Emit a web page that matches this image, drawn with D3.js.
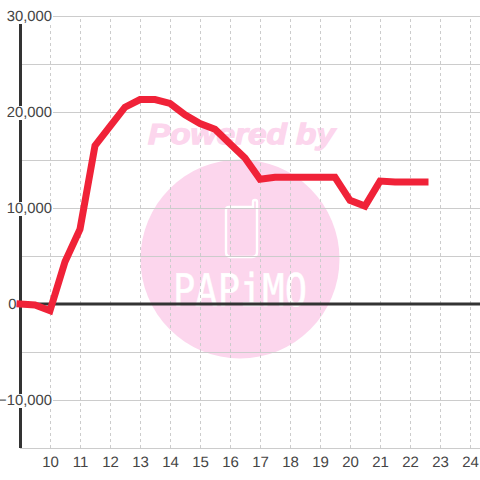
<!DOCTYPE html>
<html><head><meta charset="utf-8">
<style>html,body{margin:0;padding:0;background:#fff}svg{display:block;text-rendering:geometricPrecision}</style>
<script src="https://cdnjs.cloudflare.com/ajax/libs/d3/7.8.5/d3.min.js"></script>
</head><body><div id="c"></div>
<script>
const hours=[9,9.5,10,10.5,11,11.5,12,12.5,13,13.5,14,14.5,15,15.5,16,16.5,17,17.5,18,18.5,19,19.5,20,20.5,21,21.5,22,22.5];
const values=[0,-100,-700,4400,7800,16500,18500,20500,21300,21300,20900,19700,18800,18200,16700,15200,13000,13200,13200,13200,13200,13200,10800,10200,12800,12700,12700,12700];
const xTicks=[10,11,12,13,14,15,16,17,18,19,20,21,22,23,24];
const yGrid=[-15000,-10000,-5000,0,5000,10000,15000,20000,25000,30000];
const yLabels=[-10000,0,10000,20000,30000];
const W=480,H=480;
const x=d3.scaleLinear().domain([9,24.3333]).range([20,480]);
const y=d3.scaleLinear().domain([-15000,30000]).range([448,16]);
const svg=d3.select('#c').append('svg').attr('width',W).attr('height',H).style('font-family','"Liberation Sans",Arial,sans-serif');

// watermark
const wm=svg.append('g');
wm.append('circle').attr('cx',240).attr('cy',259).attr('r',99.5).attr('fill','#fcd6ed');
wm.append('text').attr('x',148).attr('y',144).attr('font-size',29).attr('font-weight','bold').attr('font-style','italic').attr('textLength',187).attr('lengthAdjust','spacingAndGlyphs').attr('fill','#fcd6ed').attr('stroke','#fcd6ed').attr('stroke-width',1.3).text('Powered by');
wm.append('path').attr('d','M229 207H253V202Q253 200 255 200Q257 200 257 202V252Q257 257 252 257H231Q226 257 226 252V210Q226 207 229 207Z').attr('fill','none').attr('stroke','#fff').attr('stroke-width',2.4);
wm.append('text').attr('x',173).attr('y',306).attr('font-size',45).attr('font-family','"DejaVu Sans Mono",monospace').attr('textLength',134).attr('lengthAdjust','spacingAndGlyphs').attr('fill','#fff').attr('stroke','#fff').attr('stroke-width',0.5).text('PAPiMO');

// grid
svg.append('g').attr('transform','translate(0,448)').call(d3.axisBottom(x).tickValues(xTicks).tickSize(-432).tickFormat(''))
 .call(g=>g.select('.domain').remove())
 .call(g=>g.selectAll('line').attr('stroke','#ccc').attr('stroke-dasharray','3,3'));
svg.append('g').attr('transform','translate(20,0)').call(d3.axisLeft(y).tickValues(yGrid).tickSize(-460).tickFormat(''))
 .call(g=>g.select('.domain').remove())
 .call(g=>g.selectAll('line').attr('stroke','#ccc'));

// axes lines
svg.append('line').attr('x1',x(9)).attr('x2',x(9)).attr('y1',y(30000)).attr('y2',y(-15000)).attr('stroke','#333').attr('stroke-width',3).attr('transform','translate(0.5,0)');
svg.append('line').attr('x1',x(9)).attr('x2',W).attr('y1',y(0)).attr('y2',y(0)).attr('stroke','#333').attr('stroke-width',3);

// labels with white plates
const fmt=d3.format(',');
const labelG=svg.append('g');
const labels=labelG.selectAll('g').data(yLabels).join('g');
labels.append('text')
 .attr('x',d=>d===0?16.5:52).attr('y',d=>y(d)).attr('dy','0.36em').attr('text-anchor','end')
 .attr('font-size',14.8).attr('fill','#444')
 .text(d=>fmt(d));
labels.each(function(d){
  const g=d3.select(this), b=g.select('text').node().getBBox();
  if(d!==0) g.insert('rect','text').attr('x',b.x).attr('width',b.width+1).attr('y',y(d)-6).attr('height',14).attr('fill','#fff');
});
svg.append('g').selectAll('text').data(xTicks).join('text')
 .attr('x',d=>x(d)+0.5).attr('y',466.5).attr('text-anchor','middle').attr('font-size',15).attr('fill','#444').text(d=>d);

// series
svg.append('path').datum(hours.map((h,i)=>[h,values[i]]))
 .attr('d',d3.line().x(d=>x(d[0])).y(d=>y(d[1])))
 .attr('fill','none').attr('stroke','#f02238').attr('stroke-width',7).attr('stroke-linecap','square').attr('stroke-linejoin','miter');
</script></body></html>
